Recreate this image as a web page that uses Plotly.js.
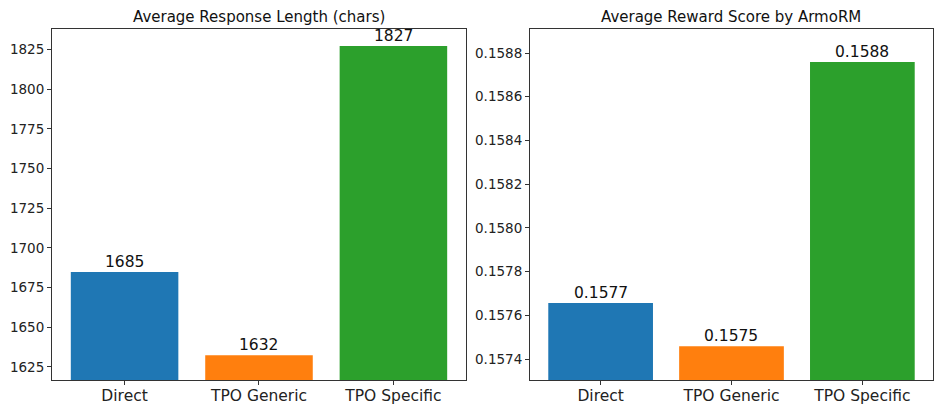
<!DOCTYPE html>
<html>
<head>
<meta charset="utf-8">
<script src="https://cdn.plot.ly/plotly-3.0.1.min.js"></script>
<style>html,body{margin:0;padding:0;background:#fff;}#chart{width:935px;height:405px;}</style>
</head>
<body>
<div id="chart"></div>
<script>
const categories = ["Direct", "TPO Generic", "TPO Specific"];
const lengthValues = [1684.9, 1632.4, 1827.3];
const lengthLabels = ["1685", "1632", "1827"];
const rewardValues = [0.157656, 0.157458, 0.158759];
const rewardLabels = ["0.1577", "0.1575", "0.1588"];
const colors = ["#1f77b4", "#ff7f0e", "#2ca02c"];
const titles = ["Average Response Length (chars)", "Average Reward Score by ArmoRM"];

const font = "DejaVu Sans, sans-serif";
const traces = [
  {type: "bar", x: categories, y: lengthValues,
   marker: {color: colors}, width: 0.8, xaxis: "x", yaxis: "y", hoverinfo: "none"},
  {type: "bar", x: categories, y: rewardValues,
   marker: {color: colors}, width: 0.8, xaxis: "x2", yaxis: "y2", hoverinfo: "none"}
];

const axisCommon = {showgrid: false, zeroline: false, showline: true, mirror: true,
  linecolor: "#333", linewidth: 1, ticks: "outside", ticklen: 4, tickcolor: "#333",
  tickfont: {family: font, size: 13.5, color: "#222"}};
const xCommon = Object.assign({}, axisCommon, {range: [-0.54, 2.54], type: "category",
  ticklabelstandoff: -3,
  tickfont: {family: font, size: 15.5, color: "#222"}});

const annotations = [
  {text: titles[0], xref: "paper", yref: "paper", x: (0.0556 + 0.4984) / 2, y: 0.9284, yshift: 1, xanchor: "center", yanchor: "bottom", showarrow: false, font: {family: font, size: 15, color: "#111"}},
  {text: titles[1], xref: "paper", yref: "paper", x: (0.5668 + 0.9979) / 2, y: 0.9284, yshift: 1, xanchor: "center", yanchor: "bottom", showarrow: false, font: {family: font, size: 15, color: "#111"}}
];
categories.forEach((c, i) => {
  annotations.push({text: lengthLabels[i], xref: "x", yref: "y", x: c, y: lengthValues[i], yshift: -1,
    xanchor: "center", yanchor: "bottom", showarrow: false, font: {family: font, size: 15.5, color: "#111"}});
  annotations.push({text: rewardLabels[i], xref: "x2", yref: "y2", x: c, y: rewardValues[i], yshift: -1,
    xanchor: "center", yanchor: "bottom", showarrow: false, font: {family: font, size: 15.5, color: "#111"}});
});

const layout = {
  width: 935, height: 405, margin: {l: 0, r: 0, t: 0, b: 0},
  paper_bgcolor: "#fff", plot_bgcolor: "#fff", showlegend: false,
  xaxis: Object.assign({}, xCommon, {domain: [0.0556, 0.4984], anchor: "y"}),
  yaxis: Object.assign({}, axisCommon, {domain: [0.0617, 0.9284], range: [1616.8, 1838], dtick: 25, tick0: 1625, anchor: "x"}),
  xaxis2: Object.assign({}, xCommon, {domain: [0.5668, 0.9979], anchor: "y2"}),
  yaxis2: Object.assign({}, axisCommon, {domain: [0.0617, 0.9284], range: [0.157304, 0.15891], dtick: 0.0002, tick0: 0.1574, tickformat: ".4f", anchor: "x2"}),
  annotations: annotations
};
Plotly.newPlot("chart", traces, layout, {staticPlot: true, displayModeBar: false});
</script>
</body>
</html>
